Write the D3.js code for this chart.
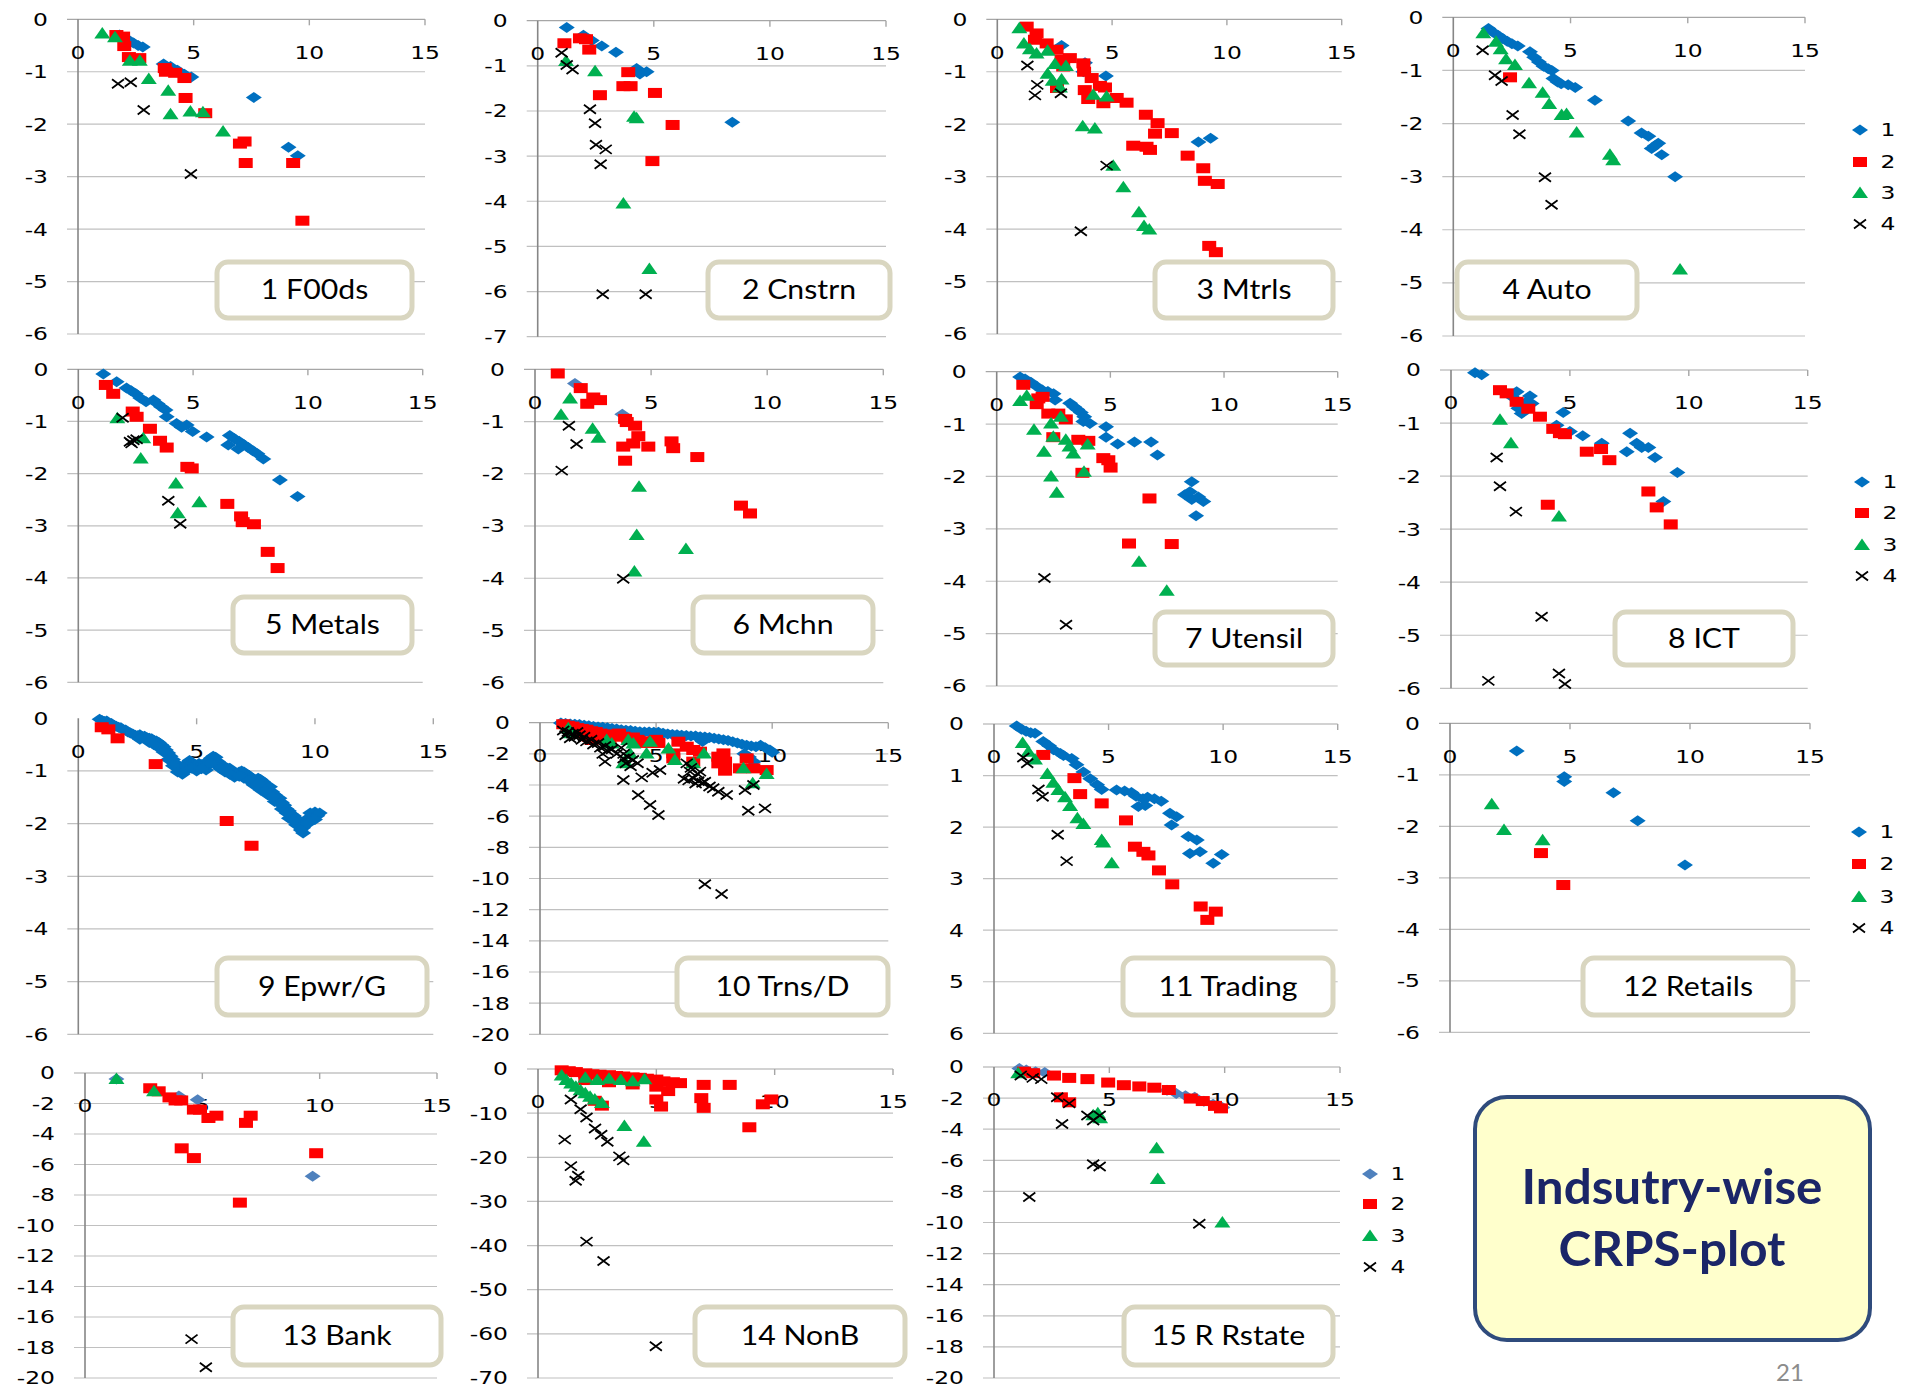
<!DOCTYPE html>
<html><head><meta charset="utf-8">
<script src="https://cdn.jsdelivr.net/npm/d3@7"></script>
<style>body{margin:0;background:#fff;} svg{display:block;}</style>
</head><body>
<svg id="c" width="1905" height="1390"></svg>
<script>
// ---------------- DATA ----------------
const categories = ["1 F00ds","2 Cnstrn","3 Mtrls","4 Auto","5 Metals","6 Mchn","7 Utensil","8 ICT",
  "9 Epwr/G","10 Trns/D","11 Trading","12 Retails","13 Bank","14 NonB","15 R Rstate"];
const seriesNames = ["1","2","3","4"];
const xTicks = [0,5,10,15];
const yMins  = [-6,-7,-6,-6,-6,-6,-6,-6,-6,-20,-6,-6,-20,-70,-20];
const ySteps = [1,1,1,1,1,1,1,1,1,2,1,1,2,10,2];
const titleLines = ["Indsutry-wise","CRPS-plot"];
const pageNumber = "21";

const p1 = [
 [[1.8,-0.3],[2.0,-0.35],[2.2,-0.4],[2.4,-0.45],[2.6,-0.5],[2.8,-0.53],[3.7,-0.85],[4.0,-0.9],[4.3,-0.97],[4.6,-1.05],[4.9,-1.1],[7.6,-1.49],[9.1,-2.44],[9.5,-2.6]],
 [[1.66,-0.3],[1.95,-0.33],[2.0,-0.51],[2.2,-0.72],[2.65,-0.74],[3.75,-0.93],[3.8,-1.0],[4.2,-1.02],[4.6,-1.12],[4.65,-1.5],[5.5,-1.79],[7.0,-2.37],[7.2,-2.33],[7.25,-2.74],[9.3,-2.74],[9.7,-3.84]],
 [[1.05,-0.27],[1.6,-0.34],[2.24,-0.79],[2.67,-0.79],[3.06,-1.14],[3.9,-1.36],[4.0,-1.81],[4.86,-1.76],[5.4,-1.77],[6.27,-2.14]],
 [[1.73,-1.23],[2.28,-1.2],[2.84,-1.73],[4.88,-2.95]]
];
const p2 = [
 [[1.25,-0.15],[1.97,-0.32],[2.33,-0.44],[2.76,-0.56],[3.37,-0.7],[4.26,-1.06],[4.4,-1.18],[4.69,-1.13],[8.38,-2.25]],
 [[1.15,-0.5],[1.82,-0.39],[2.08,-0.41],[2.22,-0.64],[2.68,-1.65],[3.9,-1.14],[3.69,-1.45],[4.0,-1.45],[5.05,-1.6],[5.81,-2.31],[4.94,-3.11]],
 [[1.22,-0.89],[2.47,-1.12],[4.15,-2.13],[4.26,-2.16],[3.69,-4.05],[4.81,-5.5]],
 [[1.03,-0.71],[1.25,-0.98],[1.5,-1.08],[2.25,-1.96],[2.47,-2.27],[2.51,-2.75],[2.93,-2.85],[2.71,-3.18],[2.8,-6.06],[4.65,-6.06]]
];
const p3 = [
 [[2.8,-0.5],[3.82,-0.83],[3.75,-1.0],[4.73,-1.08],[8.76,-2.34],[9.29,-2.27]],
 [[1.28,-0.14],[1.71,-0.27],[1.64,-0.39],[2.15,-0.46],[2.58,-0.58],[2.8,-0.77],[3.16,-0.74],[2.87,-0.9],[3.75,-0.84],[3.78,-1.0],[4.11,-1.12],[4.47,-1.27],[4.69,-1.3],[3.81,-1.35],[3.96,-1.52],[4.62,-1.6],[5.2,-1.5],[5.63,-1.59],[6.47,-1.82],[6.98,-1.98],[6.87,-2.18],[7.6,-2.17],[5.92,-2.41],[6.5,-2.43],[6.65,-2.49],[8.29,-2.6],[8.97,-2.84],[9.04,-3.08],[9.6,-3.14],[9.23,-4.32],[9.52,-4.44],[2.6,-1.31]],
 [[0.96,-0.17],[1.16,-0.46],[1.42,-0.57],[1.71,-0.65],[2.19,-0.6],[2.19,-1.04],[2.51,-0.85],[2.99,-0.89],[2.41,-1.17],[2.8,-1.15],[2.73,-1.3],[4.18,-1.44],[4.76,-1.47],[3.72,-2.04],[4.25,-2.08],[5.05,-2.79],[5.49,-3.2],[6.17,-3.68],[6.39,-3.94],[6.62,-4.01]],
 [[1.31,-0.88],[1.74,-1.25],[1.64,-1.45],[2.77,-1.41],[4.76,-2.79],[3.64,-4.04]]
];
const p4 = [
 [[1.5,-0.21],[1.7,-0.28],[1.9,-0.34],[2.1,-0.4],[2.3,-0.45],[2.5,-0.5],[2.75,-0.54],[3.27,-0.65],[3.45,-0.75],[3.65,-0.84],[3.85,-0.92],[4.05,-0.97],[4.2,-1.0],[4.27,-1.15],[4.45,-1.22],[4.6,-1.25],[4.9,-1.27],[5.2,-1.32],[6.04,-1.56],[7.46,-1.95],[8.03,-2.18],[8.32,-2.24],[8.46,-2.47],[8.74,-2.37],[8.6,-2.42],[8.89,-2.59],[9.46,-3.0]],
 [[2.42,-1.13]],
 [[1.28,-0.3],[1.82,-0.46],[2.02,-0.6],[2.25,-0.79],[2.63,-0.9],[3.23,-1.24],[3.81,-1.42],[4.09,-1.63],[4.62,-1.84],[4.83,-1.82],[5.26,-2.17],[6.68,-2.59],[6.82,-2.69],[9.67,-4.75]],
 [[1.25,-0.62],[1.78,-1.09],[2.06,-1.2],[2.53,-1.84],[2.82,-2.2],[3.91,-3.01],[4.19,-3.53]]
];
const p5 = [
 [[1.09,-0.09],[1.67,-0.24],[2.1,-0.36],[2.3,-0.41],[2.5,-0.47],[2.7,-0.55],[2.95,-0.62],[3.27,-0.59],[3.45,-0.66],[3.6,-0.72],[3.8,-0.78],[3.85,-0.91],[4.28,-1.04],[4.72,-1.07],[4.5,-1.11],[4.98,-1.19],[5.59,-1.3],[6.6,-1.27],[6.8,-1.33],[7.0,-1.38],[7.2,-1.44],[7.4,-1.5],[7.6,-1.56],[7.8,-1.62],[8.06,-1.72],[6.53,-1.45],[6.97,-1.53],[8.78,-2.12],[9.55,-2.44]],
 [[1.2,-0.3],[1.52,-0.47],[2.37,-0.81],[2.54,-0.91],[3.12,-1.14],[3.56,-1.37],[3.85,-1.5],[4.75,-1.87],[4.94,-1.9],[6.49,-2.58],[7.09,-2.82],[7.16,-2.93],[7.65,-2.97],[8.25,-3.5],[8.68,-3.81]],
 [[1.7,-0.94],[2.83,-1.32],[2.72,-1.71],[4.25,-2.19],[5.27,-2.55],[4.33,-2.76]],
 [[1.93,-0.93],[2.25,-1.39],[2.4,-1.36],[2.54,-1.34],[2.32,-1.42],[3.92,-2.52],[4.44,-2.96]]
];
const p6 = [
 [[1.72,-0.27],[3.76,-0.86]],
 [[0.98,-0.08],[1.97,-0.36],[2.25,-0.66],[2.51,-0.54],[2.8,-0.59],[3.88,-0.95],[3.95,-1.01],[4.31,-1.08],[4.45,-1.28],[3.8,-1.48],[4.23,-1.42],[4.88,-1.48],[3.88,-1.75],[5.88,-1.38],[5.95,-1.51],[6.99,-1.68],[8.87,-2.61],[9.26,-2.76]],
 [[1.51,-0.56],[1.12,-0.87],[2.48,-1.14],[2.73,-1.31],[4.48,-2.25],[4.38,-3.17],[6.5,-3.44],[4.28,-3.87]],
 [[1.46,-1.08],[1.79,-1.43],[1.15,-1.94],[3.8,-4.01]]
];
const p7 = [
 [[1.03,-0.1],[1.25,-0.14],[1.5,-0.2],[1.75,-0.28],[2.0,-0.35],[2.25,-0.38],[2.5,-0.42],[2.57,-0.54],[3.23,-0.6],[3.4,-0.67],[3.55,-0.72],[3.7,-0.78],[3.85,-0.86],[4.1,-0.99],[3.81,-0.95],[4.81,-1.05],[4.81,-1.25],[5.32,-1.38],[6.06,-1.34],[6.79,-1.34],[7.07,-1.59],[8.58,-2.1],[8.28,-2.35],[8.5,-2.29],[8.58,-2.44],[8.87,-2.39],[9.09,-2.48],[8.77,-2.75]],
 [[1.17,-0.25],[1.83,-0.51],[2.02,-0.48],[1.76,-0.62],[2.27,-0.8],[2.71,-0.8],[3.04,-0.91],[2.49,-1.25],[3.59,-1.3],[4.03,-1.32],[4.69,-1.65],[4.91,-1.69],[5.01,-1.83],[3.77,-1.93],[6.72,-2.42],[5.82,-3.28],[7.7,-3.29]],
 [[1.03,-0.56],[1.32,-0.46],[1.64,-1.11],[2.39,-0.99],[2.82,-0.86],[2.49,-1.24],[3.04,-1.3],[3.2,-1.43],[3.37,-1.56],[4.0,-1.39],[3.84,-1.91],[2.08,-1.53],[2.39,-2.0],[2.64,-2.31],[6.26,-3.63],[7.48,-4.18]],
 [[2.1,-3.94],[3.05,-4.83]]
];
const p8 = [
 [[1.01,-0.05],[1.29,-0.09],[2.76,-0.41],[2.55,-0.5],[3.32,-0.49],[3.18,-0.6],[2.97,-0.82],[3.39,-0.63],[2.83,-0.72],[4.72,-0.8],[4.44,-1.04],[5.0,-1.16],[5.54,-1.24],[6.34,-1.38],[7.53,-1.19],[7.39,-1.54],[7.81,-1.38],[8.02,-1.46],[8.3,-1.46],[8.58,-1.65],[9.52,-1.93],[8.93,-2.48]],
 [[2.06,-0.38],[2.34,-0.44],[2.76,-0.6],[3.25,-0.73],[3.74,-0.88],[4.3,-1.11],[4.58,-1.19],[4.79,-1.21],[5.71,-1.54],[6.31,-1.49],[6.66,-1.7],[4.07,-2.54],[8.3,-2.29],[8.65,-2.59],[9.24,-2.91]],
 [[2.06,-0.94],[2.52,-1.38],[4.54,-2.76]],
 [[1.92,-1.65],[2.06,-2.19],[2.73,-2.67],[3.81,-4.65],[1.57,-5.86],[4.54,-5.72],[4.79,-5.92]]
];
const p9 = [
 [[0.9,-0.02],[1.0,-0.04],[1.1,-0.06],[1.2,-0.05],[1.3,-0.1],[1.4,-0.1],[1.5,-0.13],[1.6,-0.15],[1.7,-0.17],[1.8,-0.18],[1.9,-0.22],[2.0,-0.22],[2.1,-0.26],[2.2,-0.28],[2.3,-0.3],[2.4,-0.32],[2.5,-0.33],[2.6,-0.31],[2.7,-0.35],[2.8,-0.34],[2.9,-0.37],[3.0,-0.38],[3.1,-0.39],[3.2,-0.42],[3.3,-0.43],[3.4,-0.46],[3.5,-0.5],[3.6,-0.54],[3.7,-0.6],[3.8,-0.66],[3.9,-0.72],[4.0,-0.78],[4.1,-0.85],[4.2,-0.9],[4.3,-0.95],[4.4,-0.98],[4.5,-0.9],[4.6,-0.85],[4.7,-0.8],[4.8,-0.85],[4.9,-0.88],[5.0,-0.9],[5.1,-0.86],[5.2,-0.88],[5.3,-0.92],[5.4,-0.85],[5.5,-0.8],[5.6,-0.76],[5.7,-0.72],[5.8,-0.74],[5.9,-0.82],[6.0,-0.88],[6.1,-0.9],[6.2,-0.92],[6.3,-0.95],[6.4,-0.95],[6.5,-1.0],[6.6,-1.04],[6.7,-1.08],[6.8,-1.02],[6.9,-1.0],[7.0,-1.02],[7.1,-1.06],[7.2,-1.08],[7.3,-1.12],[7.4,-1.18],[7.5,-1.25],[7.6,-1.14],[7.7,-1.16],[7.8,-1.2],[7.9,-1.28],[8.0,-1.35],[8.1,-1.3],[8.2,-1.4],[8.3,-1.45],[8.4,-1.5],[8.5,-1.52],[8.6,-1.6],[8.7,-1.65],[8.8,-1.72],[8.9,-1.76],[9.0,-1.82],[9.1,-1.85],[9.2,-1.9],[9.3,-1.95],[9.4,-2.02],[9.5,-2.08],[9.6,-1.98],[9.7,-1.9],[9.8,-1.8],[9.9,-1.82],[10.0,-1.78],[10.1,-1.85],[10.2,-1.8],
  [2.6,-0.4],[3.0,-0.46],[3.4,-0.56],[3.8,-0.78],[4.0,-0.9],[4.2,-1.02],[4.4,-1.06],[4.6,-0.98],[5.0,-1.0],[5.4,-0.98],[5.8,-0.88],[6.2,-1.02],[6.6,-1.12],[7.0,-1.14],[7.4,-1.26],[7.7,-1.36],[8.0,-1.45],[8.3,-1.58],[8.6,-1.72],[8.9,-1.9],[9.2,-2.02],[9.5,-2.18],[9.8,-1.95],[10.0,-1.92],
  [3.2,-0.5],[3.6,-0.64],[4.8,-0.95],[5.2,-0.96],[5.6,-0.86],[6.0,-0.96],[6.4,-1.06],[6.8,-1.1],[7.2,-1.18],[7.6,-1.24],[7.9,-1.38],[8.2,-1.5],[8.5,-1.62],[8.8,-1.8],[9.1,-1.95],[9.4,-2.12],[9.7,-2.0]],
 [[0.99,-0.17],[1.27,-0.21],[1.66,-0.38],[3.27,-0.87],[6.27,-1.95],[7.32,-2.42]],
 [],
 []
];
const p10 = [
 [[0.9,-0.02],[1.1,-0.05],[1.3,-0.08],[1.5,-0.1],[1.7,-0.12],[1.9,-0.16],[2.1,-0.2],[2.3,-0.25],[2.5,-0.28],[2.7,-0.3],[2.9,-0.33],[3.1,-0.38],[3.3,-0.4],[3.5,-0.45],[3.7,-0.48],[3.9,-0.5],[4.1,-0.55],[4.3,-0.58],[4.5,-0.6],[4.7,-0.6],[4.9,-0.62],[5.1,-0.62],[5.3,-0.68],[5.5,-0.72],[5.7,-0.75],[5.9,-0.78],[6.1,-0.8],[6.3,-0.82],[6.5,-0.85],[6.7,-0.86],[6.9,-0.9],[7.1,-0.92],[7.3,-0.95],[7.5,-1.0],[7.7,-1.05],[7.9,-1.1],[8.1,-1.15],[8.3,-1.22],[8.5,-1.3],[8.7,-1.38],[8.9,-1.45],[9.1,-1.5],[9.3,-1.55],[9.5,-1.45],[9.7,-1.6],[9.9,-1.75],[10.0,-1.9],[9.2,-2.5],[9.0,-2.2],[8.8,-2.0],[7.0,-1.2],[6.0,-1.1],[5.0,-0.95],[4.0,-0.8]],
 [[1.0,-0.1],[1.2,-0.2],[1.4,-0.25],[1.6,-0.35],[1.8,-0.4],[2.0,-0.45],[2.2,-0.55],[2.4,-0.6],[2.6,-0.7],[2.8,-0.75],[3.0,-0.8],[3.2,-0.85],[3.4,-0.7],[3.6,-0.9],[3.8,-1.0],[4.0,-0.95],[4.2,-1.1],[4.4,-1.2],[4.6,-1.3],[4.8,-1.25],[5.0,-1.1],[5.1,-1.3],[1.3,-0.5],[1.7,-0.7],[2.1,-0.9],[2.22,-1.11],[2.6,-0.95],[3.0,-1.1],[4.52,-1.22],[5.74,-1.97],[5.96,-1.22],[6.32,-1.54],[6.6,-1.75],[6.89,-1.86],[6.6,-2.5],[7.68,-2.18],[7.9,-1.97],[7.97,-2.5],[7.97,-3.08],[7.68,-2.61],[8.9,-2.29],[8.61,-2.93],[9.19,-2.93],[9.76,-3.04],[5.74,-2.29]],
 [[1.22,-0.36],[1.29,-0.68],[2.87,-1.11],[3.09,-1.33],[3.66,-2.5],[3.8,-1.11],[4.02,-1.33],[3.88,-1.97],[3.59,-2.61],[4.59,-1.97],[4.74,-1.22],[5.53,-1.65],[5.81,-2.4],[6.6,-2.61],[7.06,-1.97],[8.76,-2.93],[9.16,-3.89],[9.76,-3.29]],
 [[1.0,-0.5],[1.1,-0.8],[1.2,-0.6],[1.3,-1.0],[1.4,-0.7],[1.5,-0.9],[1.6,-0.6],[1.7,-0.8],[1.8,-1.1],[1.9,-0.9],[2.0,-1.2],[2.2,-1.1],[2.3,-1.4],[2.5,-1.3],[2.6,-1.6],[2.8,-1.5],[2.9,-1.8],[3.1,-1.7],[3.3,-2.0],[2.7,-2.0],[2.8,-2.5],[3.5,-1.6],[3.6,-2.0],[3.6,-2.3],[3.7,-2.6],[3.8,-2.2],[3.9,-2.8],[4.0,-2.4],[4.2,-2.6],[3.59,-3.68],[4.38,-3.51],[4.85,-3.21],[5.17,-3.04],[4.23,-4.64],[4.74,-5.28],[5.1,-5.93],[6.32,-2.61],[6.46,-3.14],[6.89,-3.14],[6.2,-3.6],[6.4,-3.7],[6.6,-3.57],[6.7,-3.9],[6.82,-3.75],[7.0,-3.85],[7.1,-3.79],[7.3,-4.1],[7.46,-4.21],[7.68,-4.43],[8.04,-4.64],[8.83,-4.32],[9.19,-4.0],[8.97,-5.65],[9.69,-5.5],[7.1,-10.37],[7.82,-10.99],[6.5,-2.9],[6.8,-3.3]]
];
const p11 = [
 [[0.99,-0.04],[1.2,-0.1],[1.4,-0.14],[1.6,-0.17],[1.79,-0.18],[2.15,-0.34],[2.4,-0.42],[2.6,-0.5],[2.9,-0.57],[3.03,-0.61],[3.39,-0.67],[3.6,-0.79],[3.9,-0.93],[4.2,-1.06],[4.5,-1.18],[4.7,-1.27],[5.35,-1.28],[5.7,-1.3],[6.0,-1.33],[6.2,-1.4],[6.5,-1.45],[6.7,-1.42],[7.0,-1.45],[7.3,-1.5],[6.3,-1.6],[6.6,-1.58],[7.68,-1.73],[7.97,-1.8],[7.75,-1.96],[8.48,-2.18],[8.85,-2.25],[8.55,-2.51],[8.99,-2.48],[9.57,-2.7],[9.94,-2.53]],
 [[2.15,-0.6],[3.51,-1.05],[3.76,-1.36],[4.7,-1.54],[5.76,-1.87],[6.15,-2.38],[6.52,-2.48],[6.74,-2.55],[7.2,-2.84],[7.78,-3.11],[9.02,-3.54],[9.68,-3.64],[9.31,-3.8]],
 [[1.25,-0.37],[1.5,-0.54],[1.79,-0.69],[2.33,-0.97],[2.59,-1.14],[2.81,-1.28],[3.1,-1.42],[3.32,-1.59],[3.64,-1.83],[3.9,-1.94],[4.7,-2.25],[4.77,-2.3],[5.14,-2.7]],
 [[1.28,-0.65],[1.45,-0.76],[1.94,-1.27],[2.12,-1.41],[2.78,-2.15],[3.17,-2.66]]
];
const p12 = [
 [[2.78,-0.54],[4.76,-1.04],[4.76,-1.13],[6.81,-1.35],[7.82,-1.89],[9.79,-2.75]],
 [[3.79,-2.52],[4.72,-3.14]],
 [[1.74,-1.57],[2.25,-2.07],[3.86,-2.27]],
 []
];
const p13 = [
 [[1.34,-0.4],[4.0,-1.5],[4.8,-1.75],[9.7,-6.77]],
 [[2.78,-1.0],[3.14,-1.2],[3.6,-1.6],[3.86,-1.8],[4.1,-1.8],[4.64,-2.4],[4.9,-2.4],[5.26,-2.95],[5.6,-2.8],[6.86,-3.27],[7.06,-2.8],[4.12,-4.94],[4.64,-5.58],[6.6,-8.5],[9.85,-5.26]],
 [[1.34,-0.4],[2.94,-1.2]],
 [[4.54,-17.45],[5.15,-19.3]]
];
const p14 = [
 [],
 [[1.0,-0.3],[1.3,-0.5],[1.6,-0.7],[2.0,-1.0],[2.3,-1.2],[2.6,-1.3],[3.0,-1.4],[3.3,-1.6],[3.6,-1.7],[4.0,-1.9],[4.3,-2.0],[4.6,-2.2],[5.0,-2.4],[5.3,-2.8],[5.7,-3.0],[6.0,-3.2],[2.0,-2.5],[3.0,-3.0],[4.0,-3.5],[5.0,-4.0],[5.5,-5.0],[7.0,-3.6],[8.1,-3.6],[5.0,-6.9],[5.2,-8.5],[6.9,-6.6],[7.0,-8.8],[9.5,-8.0],[9.86,-6.9],[8.93,-13.2],[2.4,-7.2],[2.7,-8.3]],
 [[1.0,-1.5],[1.2,-2.5],[1.4,-3.3],[1.6,-4.0],[1.8,-4.8],[2.0,-5.5],[2.2,-6.3],[2.4,-6.9],[2.7,-7.7],[3.65,-12.9],[4.47,-16.5],[2.0,-2.0],[2.5,-2.5],[3.0,-2.2],[3.5,-2.5],[4.0,-2.8],[4.5,-2.3]],
 [[1.13,-16.0],[1.39,-22.0],[1.59,-25.3],[1.7,-24.2],[2.41,-13.5],[2.67,-14.9],[2.93,-16.5],[3.44,-19.8],[3.6,-20.7],[2.05,-39.1],[2.77,-43.5],[4.98,-62.8],[1.39,-6.9],[1.8,-9.1],[2.05,-11.0]]
];
const p15 = [
 [[1.1,-0.1],[1.4,-0.2],[1.8,-0.3],[2.2,-0.35],[7.5,-1.5],[7.9,-1.7],[8.3,-1.85],[8.7,-1.95],[9.1,-2.2],[9.5,-2.4],[9.9,-2.6]],
 [[1.3,-0.3],[1.7,-0.4],[2.6,-0.55],[3.26,-0.7],[4.05,-0.78],[4.95,-1.0],[5.63,-1.17],[6.3,-1.25],[6.95,-1.33],[7.58,-1.48],[8.53,-2.03],[9.05,-2.19],[9.58,-2.5],[9.84,-2.66],[2.9,-1.95],[3.26,-2.27]],
 [[1.05,-0.4],[4.3,-3.1],[4.5,-2.97],[7.05,-5.23],[7.1,-7.2],[9.9,-10.0],[4.6,-3.3]],
 [[1.16,-0.55],[1.68,-0.7],[2.05,-0.78],[2.74,-1.95],[3.26,-2.34],[2.95,-3.67],[4.05,-3.12],[4.3,-3.44],[4.58,-3.12],[4.3,-6.25],[4.58,-6.4],[1.53,-8.36],[8.9,-10.08]]
];
const panelData = [p1,p2,p3,p4,p5,p6,p7,p8,p9,p10,p11,p12,p13,p14,p15];

// ---------------- LAYOUT ----------------
const layout = [
 {ax:78,   x15:425,   top:19.3,  bot:334,    box:[217,262,412,318]},
 {ax:537.7,x15:886,   top:20.7,  bot:336.7,  box:[708,262,890,318]},
 {ax:997.3,x15:1341.7,top:19.3,  bot:334,    box:[1155,262,1333,318]},
 {ax:1453.3,x15:1805, top:17.3,  bot:336,    box:[1457,262,1637,318]},
 {ax:78.3, x15:422.7, top:369.3, bot:682.3,  box:[233,597,412,653]},
 {ax:535,  x15:883.3, top:369.3, bot:682.7,  box:[693,597,873,653], lightBlue:true},
 {ax:996.7,x15:1337.7,top:371.7, bot:686,    box:[1155,612,1333,665]},
 {ax:1451, x15:1807.7,top:370,   bot:688.3,  box:[1615,612,1793,665]},
 {ax:78.3, x15:433.3, top:718.3, bot:1034.3, box:[217,958,427,1015], noTop:true},
 {ax:540,  x15:888.3, top:722.7, bot:1034.3, box:[677,958,888,1015]},
 {ax:994,  x15:1337.7,top:724,   bot:1033.3, box:[1123,958,1333,1015], absLabels:true},
 {ax:1450, x15:1810,  top:723.3, bot:1032.3, box:[1583,958,1793,1015]},
 {ax:85,   x15:437,   top:1073,  bot:1378,   box:[233,1307,441,1365], lightBlue:true},
 {ax:538,  x15:893,   top:1069,  bot:1378,   box:[695,1307,905,1365], lightBlue:true},
 {ax:994,  x15:1340,  top:1067,  bot:1378,   box:[1124,1307,1333,1365], lightBlue:true}
];
const legends = [
 {x:1860, ys:[130,162,193,224]},
 {x:1862, ys:[482,513,545,576]},
 {x:1859, ys:[832,864,897,928]},
 {x:1370, ys:[1174,1204,1236,1267], lightBlue:true}
];
const colors = ["#0070C0","#FF0000","#00B050","#000000"];
const lightBlueC = "#4F81BD";
const SX = 1.3; // horizontal stretch of the original slide text

const svg = d3.select("#c");
const tickFont = "'DejaVu Sans', Verdana, sans-serif";

function stretchedText(g, x, y, anchor, size, str, fam){
  return g.append("text").attr("transform",`translate(${x},${y}) scale(${SX},1)`)
    .attr("dy","0.36em").attr("text-anchor",anchor).attr("font-family",fam).attr("font-size",size)
    .attr("fill","#000").text(str);
}

function drawMarker(g, type, x, y, color){
  if(type===0) g.append("path").attr("d",`M${x},${y-5.5}L${x+8},${y}L${x},${y+5.5}L${x-8},${y}Z`).attr("fill",color);
  else if(type===1) g.append("rect").attr("x",x-7).attr("y",y-5).attr("width",14).attr("height",10).attr("fill",color);
  else if(type===2) g.append("path").attr("d",`M${x},${y-6.5}L${x+8},${y+5}L${x-8},${y+5}Z`).attr("fill",color);
  else g.append("path").attr("d",`M${x-6},${y-4.5}L${x+6},${y+4.5}M${x-6},${y+4.5}L${x+6},${y-4.5}`).attr("stroke",color).attr("stroke-width",1.8).attr("fill","none");
}

panelData.forEach((data,i)=>{
  const L = layout[i];
  const g = svg.append("g");
  const x = d3.scaleLinear().domain([0,15]).range([L.ax, L.x15]);
  const y = d3.scaleLinear().domain([0, yMins[i]]).range([L.top, L.bot]);
  const yt = d3.range(0, yMins[i]-0.001, -ySteps[i]);
  g.selectAll("line.grid").data(yt.filter(v=>v!==0 || !L.noTop)).enter().append("line")
    .attr("x1",L.ax-11).attr("x2",L.x15)
    .attr("y1",d=>y(d)).attr("y2",d=>y(d))
    .attr("stroke", d=> d===0 ? "#A6A6A6" : "#C0C0C0").attr("stroke-width",1.2);
  g.append("line").attr("x1",L.ax).attr("x2",L.ax).attr("y1",L.top).attr("y2",L.bot)
    .attr("stroke","#868686").attr("stroke-width",1.6);
  g.selectAll("line.xt").data(xTicks.slice(1)).enter().append("line")
    .attr("x1",d=>x(d)).attr("x2",d=>x(d)).attr("y1",L.top).attr("y2",L.top+6)
    .attr("stroke","#A6A6A6").attr("stroke-width",1.4);
  yt.forEach(d=>{
    stretchedText(g, L.ax-30, y(d), "end", 18,
      L.absLabels ? String(Math.abs(d)) : (d===0 ? "0" : "-"+Math.abs(d)), tickFont);
  });
  xTicks.forEach(d=>{
    stretchedText(g, x(d), L.top+33, "middle", 18, String(d), tickFont);
  });
  data.forEach((series,s)=>{
    const col = (s===0 && L.lightBlue) ? lightBlueC : colors[s];
    series.forEach(p=>drawMarker(g, s, x(p[0]), y(p[1]), col));
  });
  const b = L.box;
  g.append("rect").attr("x",b[0]).attr("y",b[1]).attr("width",b[2]-b[0]).attr("height",b[3]-b[1])
    .attr("rx",11).attr("fill","#fff").attr("stroke","#D9D6C0").attr("stroke-width",5);
  g.append("text").attr("transform",`translate(${(b[0]+b[2])/2},${(b[1]+b[3])/2}) scale(1.12,1)`).attr("dy","0.35em")
    .attr("text-anchor","middle").attr("font-family","Lato, 'Open Sans', sans-serif").attr("font-size",27)
    .attr("fill","#000").text(categories[i]);
});

legends.forEach(lg=>{
  const g = svg.append("g");
  seriesNames.forEach((nm,s)=>{
    const col = (s===0 && lg.lightBlue) ? lightBlueC : colors[s];
    drawMarker(g, s, lg.x, lg.ys[s], col);
    stretchedText(g, lg.x+28, lg.ys[s], "middle", 18, nm, tickFont);
  });
});

const tb = svg.append("g");
tb.append("rect").attr("x",1475).attr("y",1097).attr("width",395).attr("height",243).attr("rx",32)
  .attr("fill","#FFFFCC").attr("stroke","#2F4B7C").attr("stroke-width",4);
titleLines.forEach((t,k)=>{
  tb.append("text").attr("transform",`translate(1672,${1188+k*62}) scale(1.05,1)`).attr("dy","0.35em").attr("text-anchor","middle")
    .attr("font-family","Lato, 'Open Sans', sans-serif").attr("font-weight","bold").attr("font-size",47)
    .attr("fill","#1B2668").text(t);
});
svg.append("text").attr("x",1790).attr("y",1373).attr("dy","0.35em").attr("text-anchor","middle")
  .attr("font-family","Lato, 'Open Sans', sans-serif").attr("font-size",24).attr("fill","#8C8C8C").text(pageNumber);
</script>
</body></html>
